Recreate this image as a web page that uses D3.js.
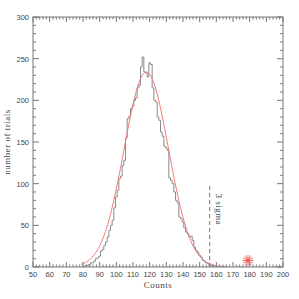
<!DOCTYPE html>
<html>
<head>
<meta charset="utf-8">
<script src="https://cdn.jsdelivr.net/npm/d3@7"></script>
<style>
  body { margin: 0; background: #fff; }
  text { fill: #444; }
</style>
</head>
<body>
<svg id="svg" width="299" height="299"></svg>
<script>
// counts histogram, 1 count per bin, starting at 80
const binStart = 80;
const trials = [1, 1, 2, 2, 3, 5, 5, 7, 10, 11,
  13, 19, 21, 26, 30, 36, 44, 50, 56, 71,
  84, 92, 106, 109, 122, 128, 155, 178, 181, 190,
  193, 200, 203, 215, 218, 240, 252, 234, 233, 228,
  245, 243, 215, 200, 198, 180, 176, 162, 157, 145,
  143, 140, 107, 104, 100, 90, 80, 77, 60, 58,
  54, 47, 42, 40, 36, 37, 32, 24, 20, 18,
  14, 12, 8, 7, 5, 4, 2, 2, 1, 1, 1];

// gaussian fit parameters
const fitAmp = 234;
const fitMean = 118;
const fitSigma = 13.3;

const sigmaLine = 156;      // 3 sigma marker
const sigmaTop = 98;
const observed = {x: 179, y: 8};

const xTicks = d3.range(50, 201, 10);
const yTicks = d3.range(0, 301, 50);

const svg = d3.select("#svg");
const margin = {left: 33, right: 16, top: 17, bottom: 32};
const W = 299 - margin.left - margin.right;
const H = 299 - margin.top - margin.bottom;

const x = d3.scaleLinear().domain([50, 200]).range([margin.left, margin.left + W]);
const y = d3.scaleLinear().domain([0, 300]).range([margin.top + H, margin.top]);

const axisColor = "#777";

// histogram as step line
const steps = [[binStart - 0.5, 0]];
trials.forEach((v, i) => {
  steps.push([binStart + i - 0.5, v]);
  steps.push([binStart + i + 0.5, v]);
});
steps.push([binStart + trials.length - 0.5, 0]);

svg.append("path")
  .datum(steps)
  .attr("fill", "none")
  .attr("stroke", "#8a8a8a")
  .attr("stroke-width", 1)
  .attr("d", d3.line().x(d => x(d[0])).y(d => y(d[1])));

// fitted curve
const fitX = d3.range(79, 166, 0.5);
svg.append("path")
  .datum(fitX)
  .attr("fill", "none")
  .attr("stroke", "#f27a7a")
  .attr("stroke-width", 1)
  .attr("d", d3.line()
    .x(d => x(d))
    .y(d => y(fitAmp * Math.exp(-((d - fitMean) ** 2) / (2 * fitSigma * fitSigma)))));

// 3 sigma line
svg.append("line")
  .attr("x1", x(sigmaLine)).attr("x2", x(sigmaLine))
  .attr("y1", y(0)).attr("y2", y(sigmaTop))
  .attr("stroke", "#777")
  .attr("stroke-dasharray", "4,3");

svg.append("text")
  .attr("transform", `translate(${x(sigmaLine) + 6},${y(sigmaTop) + 24}) rotate(90)`)
  .attr("text-anchor", "middle")
  .attr("font-family", "Liberation Serif")
  .attr("font-size", 9)
  .attr("letter-spacing", 0.5)
  .text("3 sigma");

// observed value star
const star = svg.append("g")
  .attr("transform", `translate(${x(observed.x)},${y(observed.y)})`);
d3.range(0, 180, 30).forEach(a => {
  const r = 5.5, t = a * Math.PI / 180;
  star.append("line")
    .attr("x1", -r * Math.cos(t)).attr("y1", -r * Math.sin(t))
    .attr("x2", r * Math.cos(t)).attr("y2", r * Math.sin(t))
    .attr("stroke", "#f25050")
    .attr("stroke-width", 0.9);
});

// frame
svg.append("rect")
  .attr("x", margin.left).attr("y", margin.top)
  .attr("width", W).attr("height", H)
  .attr("fill", "none")
  .attr("stroke", axisColor);

// ticks on all sides, pointing inward
const xMinor = d3.range(50, 201, 2);
const yMinor = d3.range(0, 301, 10);
const tickG = svg.append("g").attr("stroke", axisColor).attr("stroke-width", 1);

xMinor.forEach(v => {
  const len = v % 10 === 0 ? 5 : 2.5;
  tickG.append("line").attr("x1", x(v)).attr("x2", x(v))
    .attr("y1", y(0)).attr("y2", y(0) - len);
  tickG.append("line").attr("x1", x(v)).attr("x2", x(v))
    .attr("y1", y(300)).attr("y2", y(300) + len);
});
yMinor.forEach(v => {
  const len = v % 50 === 0 ? 6 : 3;
  tickG.append("line").attr("y1", y(v)).attr("y2", y(v))
    .attr("x1", x(50)).attr("x2", x(50) + len);
  tickG.append("line").attr("y1", y(v)).attr("y2", y(v))
    .attr("x1", x(200)).attr("x2", x(200) - len);
});

// tick labels
svg.selectAll("text.xt")
  .data(xTicks)
  .enter().append("text")
  .attr("class", "xt")
  .attr("x", d => x(d))
  .attr("y", y(0) + 10)
  .attr("text-anchor", "middle")
  .attr("font-family", "Liberation Sans")
  .attr("font-size", 7.5)
  .text(d => d);

svg.selectAll("text.yt")
  .data(yTicks)
  .enter().append("text")
  .attr("class", "yt")
  .attr("x", x(50) - 4)
  .attr("y", d => y(d) + 3)
  .attr("text-anchor", "end")
  .attr("font-family", "Liberation Sans")
  .attr("font-size", 7.5)
  .text(d => d);

// axis titles
svg.append("text")
  .attr("x", margin.left + W / 2)
  .attr("y", 288)
  .attr("text-anchor", "middle")
  .attr("font-family", "Liberation Serif")
  .attr("font-size", 9)
  .attr("letter-spacing", 0.5)
  .text("Counts");

svg.append("text")
  .attr("transform", `translate(10,${margin.top + H / 2}) rotate(-90)`)
  .attr("text-anchor", "middle")
  .attr("font-family", "Liberation Serif")
  .attr("font-size", 9)
  .attr("letter-spacing", 0.5)
  .text("number of trials");
</script>
</body>
</html>
